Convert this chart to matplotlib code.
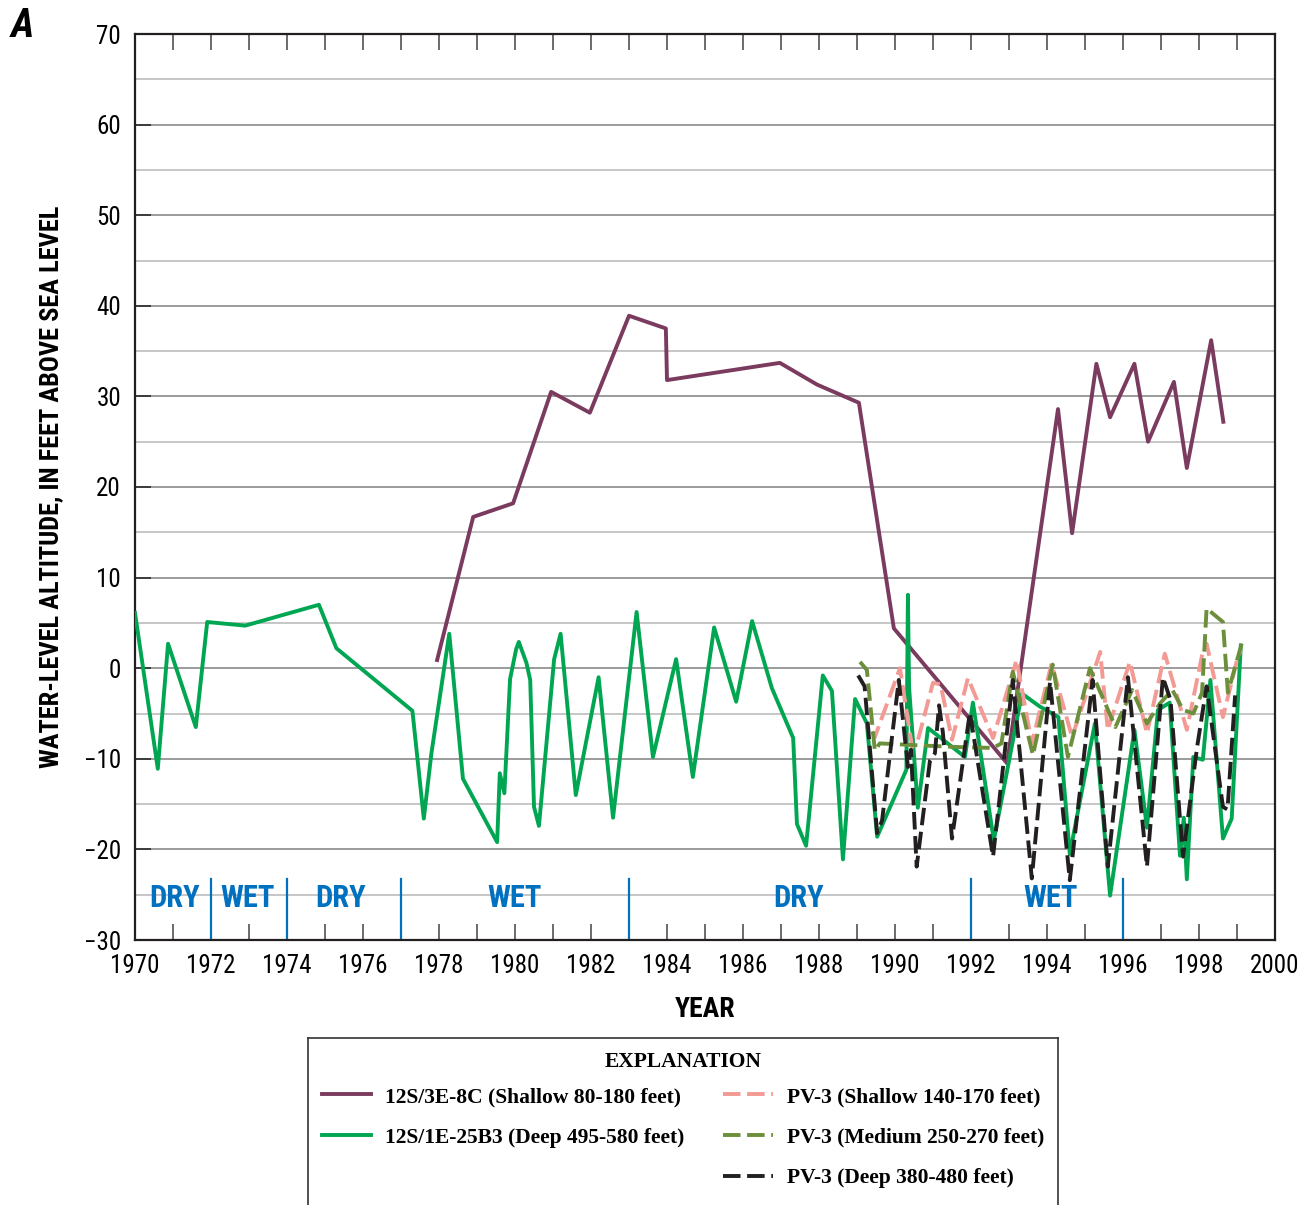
import matplotlib
matplotlib.use("Agg")
import matplotlib.pyplot as plt
from matplotlib.lines import Line2D
from matplotlib.ticker import MultipleLocator


SANS = ["Roboto Condensed", "Roboto", "DejaVu Sans"]
SERIF = ["Liberation Serif", "DejaVu Serif"]

# 12S/3E-8C (shallow)
years_8c = [1977.95, 1978.9, 1979.95, 1980.95, 1981.97, 1983.0, 1983.97, 1984.0,
            1986.97, 1987.95, 1989.05, 1989.97, 1991.05, 1992.95, 1994.29, 1994.66,
            1995.3, 1995.66, 1996.3, 1996.66, 1997.34, 1997.68, 1998.32, 1998.64]
level_8c = [0.9, 16.7, 18.2, 30.5, 28.2, 38.9, 37.5, 31.8,
            33.7, 31.3, 29.3, 4.4, -1.0, -10.5, 28.6, 14.9,
            33.6, 27.7, 33.6, 25.0, 31.6, 22.1, 36.2, 27.2]

# 12S/1E-25B3 (deep)
years_25b3 = [1970.0, 1970.6, 1970.87, 1971.6, 1971.9, 1972.9, 1974.84, 1975.3,
              1977.3, 1977.6, 1977.8, 1978.27, 1978.63, 1979.53, 1979.6, 1979.72,
              1979.87, 1980.03, 1980.1, 1980.3, 1980.4, 1980.5, 1980.63, 1981.03,
              1981.2, 1981.6, 1982.2, 1982.58, 1983.2, 1983.63, 1984.24, 1984.68,
              1985.24, 1985.82, 1986.24, 1986.76, 1987.32, 1987.42, 1987.66, 1988.1,
              1988.34, 1988.63, 1988.95, 1989.26, 1989.53, 1990.3, 1990.34, 1990.37,
              1990.6, 1990.87, 1991.84, 1992.05, 1992.6, 1993.34, 1993.8, 1994.3,
              1994.6, 1995.26, 1995.66, 1996.3, 1996.63, 1996.92, 1997.23, 1997.5,
              1997.6, 1997.68, 1997.85, 1998.1, 1998.3, 1998.63, 1998.86, 1999.1]
level_25b3 = [6.1, -11.1, 2.7, -6.5, 5.1, 4.7, 7.0, 2.2,
              -4.7, -16.6, -9.4, 3.8, -12.2, -19.2, -11.6, -13.8,
              -1.2, 2.1, 2.9, 0.6, -1.3, -15.3, -17.4, 1.0,
              3.8, -14.0, -1.0, -16.5, 6.2, -9.8, 1.0, -12.0,
              4.5, -3.7, 5.2, -2.2, -7.7, -17.2, -19.6, -0.8,
              -2.5, -21.1, -3.4, -6.1, -18.6, -11.2, 8.1, -2.1,
              -15.4, -6.6, -9.8, -3.8, -19.0, -2.8, -4.2, -5.4,
              -20.5, -6.1, -25.1, -6.8, -17.6, -4.6, -3.8, -20.7,
              -16.5, -23.3, -9.8, -10.1, -1.3, -18.8, -16.6, 2.5]

# PV-3 shallow
years_pv3s = [1989.4, 1989.47, 1990.13, 1990.45, 1990.6, 1991.0, 1991.2, 1991.5,
              1991.92, 1992.58, 1993.2, 1993.6, 1994.12, 1994.66, 1995.4, 1995.6,
              1996.18, 1996.63, 1997.1, 1997.68, 1998.08, 1998.2, 1998.63, 1999.0,
              1999.1]
level_pv3s = [-7.0, -7.6, 0.0, -8.7, -8.0, -1.6, -1.8, -7.9,
              -1.1, -7.7, 0.9, -8.3, 0.5, -7.6, 1.8, -6.8,
              0.7, -7.2, 1.6, -6.8, 1.4, 2.7, -5.4, 0.9,
              2.0]

# PV-3 medium
years_pv3m = [1989.08, 1989.26, 1989.47, 1989.6, 1990.57, 1991.63, 1992.58, 1992.8,
              1993.1, 1993.63, 1994.15, 1994.55, 1995.13, 1995.8, 1996.24, 1996.63,
              1996.97, 1997.3, 1997.58, 1997.85, 1998.08, 1998.2, 1998.63, 1998.76,
              1999.13]
level_pv3m = [0.7, -0.2, -9.1, -8.3, -8.5, -8.7, -8.8, -8.3,
              -0.4, -9.6, 0.4, -9.8, 0.0, -6.5, -2.4, -6.1,
              -3.9, -2.4, -4.6, -5.0, -2.7, 6.6, 5.1, -2.7,
              2.8]

# PV-3 deep
years_pv3d = [1989.03, 1989.2, 1989.53, 1989.66, 1990.1, 1990.34, 1990.42, 1990.57,
              1990.92, 1991.05, 1991.16, 1991.26, 1991.5, 1991.97, 1992.58, 1993.1,
              1993.6, 1994.08, 1994.6, 1995.2, 1995.6, 1996.13, 1996.63, 1997.05,
              1997.25, 1997.58, 1997.95, 1998.2, 1998.63, 1998.75, 1998.95]
level_pv3d = [-0.8, -2.0, -18.2, -16.8, -1.3, -10.9, -9.0, -21.9,
              -10.2, -9.4, -4.1, -7.1, -18.8, -4.9, -20.8, -1.3,
              -23.2, -1.5, -23.4, -1.3, -21.9, -1.0, -21.9, -1.0,
              -3.5, -20.8, -8.7, -2.0, -15.3, -15.6, -3.0]

# climate periods
period_bounds = [1972, 1974, 1977, 1983, 1992, 1996]
period_labels = ["DRY", "WET", "DRY", "WET", "DRY", "WET"]
period_centers = [1971.03, 1972.97, 1975.4, 1980.0, 1987.45, 1994.08]

PURPLE = "#7a3b5e"
GREEN = "#00a651"
PINK = "#f29a93"
OLIVE = "#6b8f3a"
BLACK = "#231f20"
BLUE = "#0070c0"
LW = 2.8
DASH = (4.5, 1.7)

fig = plt.figure(figsize=(13.09, 12.05), dpi=100)
ax = fig.add_axes([135 / 1309, 1 - 940 / 1205, 1140 / 1309, 906 / 1205])

ax.plot(years_8c, level_8c, color=PURPLE, lw=LW, zorder=3)
ax.plot(years_25b3, level_25b3, color=GREEN, lw=LW, zorder=4)
ax.plot(years_pv3s, level_pv3s, color=PINK, lw=LW, dashes=DASH, zorder=5)
ax.plot(years_pv3m, level_pv3m, color=OLIVE, lw=LW, dashes=DASH, zorder=6)
ax.plot(years_pv3d, level_pv3d, color=BLACK, lw=LW, dashes=DASH, zorder=7)

for b in period_bounds:
    ax.plot([b, b], [-30, -23.3], color=BLUE, lw=1.6, zorder=2)
for c, lab in zip(period_centers, period_labels):
    ax.text(c, -25.4, lab, color=BLUE, ha="center", va="center",
            fontsize=22, fontweight="bold", family=SANS, zorder=2)

ax.set_xlim(1970, 2000)
ax.set_ylim(-30, 70)
ax.xaxis.set_major_locator(MultipleLocator(2))
ax.xaxis.set_minor_locator(MultipleLocator(1))
ax.yaxis.set_major_locator(MultipleLocator(10))
ax.yaxis.set_minor_locator(MultipleLocator(5))

ax.grid(axis="y", which="major", color="#8a8a8a", lw=1.2, zorder=1)
ax.grid(axis="y", which="minor", color="#bcbcbc", lw=1.2, zorder=1)
ax.set_axisbelow(True)

ax.tick_params(axis="x", which="both", direction="in", top=True, length=11.5,
               width=1.1, color="#444444", pad=10)
ax.tick_params(axis="y", which="major", direction="in", length=11.5, width=1.1,
               color="#222222", pad=10)
ax.tick_params(axis="y", which="minor", length=0)
for lab in ax.get_xticklabels() + ax.get_yticklabels():
    lab.set_fontfamily(SANS)
    lab.set_fontsize(18)

for s in ax.spines.values():
    s.set_linewidth(1.6)
    s.set_color("#231f20")

ax.set_xlabel("YEAR", fontsize=20, fontweight="bold", family=SANS, labelpad=13)
ax.set_ylabel("WATER-LEVEL ALTITUDE, IN FEET ABOVE SEA LEVEL", fontsize=19,
              fontweight="bold", family=SANS, labelpad=15)

fig.text(0.008, 0.994, "A", fontsize=29, fontweight="bold", style="italic",
         family=SANS, va="top", ha="left")

# explanation box
lax = fig.add_axes([308 / 1309, -0.03, 750 / 1309, 0.03 + 1 - 1038 / 1205])
lax.set_xlim(0, 1)
lax.set_ylim(0, 1)
lax.set_xticks([])
lax.set_yticks([])
for s in lax.spines.values():
    s.set_linewidth(1.2)
    s.set_color("#333333")

lax.text(0.5, 1 - 24 / 203, "EXPLANATION", ha="center", va="center",
         family=SERIF, fontweight="bold", fontsize=15.5)

handles = [
    Line2D([], [], color=PURPLE, lw=LW),
    Line2D([], [], color=GREEN, lw=LW),
    Line2D([], [], color="none"),
    Line2D([], [], color=PINK, lw=LW, dashes=DASH),
    Line2D([], [], color=OLIVE, lw=LW, dashes=DASH),
    Line2D([], [], color=BLACK, lw=LW, dashes=DASH),
]
labels = [
    "12S/3E-8C (Shallow 80-180 feet)",
    "12S/1E-25B3 (Deep 495-580 feet)",
    "",
    "PV-3 (Shallow 140-170 feet)",
    "PV-3 (Medium 250-270 feet)",
    "PV-3 (Deep 380-480 feet)",
]
leg = lax.legend(handles, labels, loc="upper center",
                 bbox_to_anchor=(0.5, 1 - 36 / 203),
                 ncol=2, frameon=False,
                 prop={"family": SERIF, "weight": "bold", "size": 15.5},
                 handlelength=2.3, handletextpad=0.65, columnspacing=1.8,
                 labelspacing=0.95, borderaxespad=0.2)

fig.savefig("out.png", dpi=100)
